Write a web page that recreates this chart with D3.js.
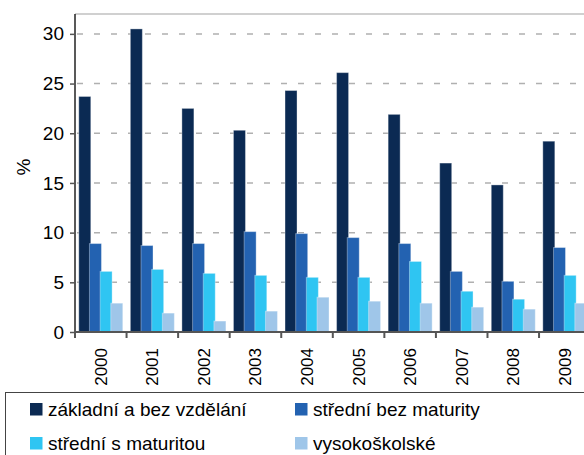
<!DOCTYPE html>
<html>
<head>
<meta charset="utf-8">
<script src="https://cdn.jsdelivr.net/npm/d3@7"></script>
<style>
	body { margin: 0; background: #fff; }
	text { font-family: Arial, "Liberation Sans", sans-serif; fill: #000; }
</style>
</head>
<body>
<svg id="chart" width="584" height="455"></svg>
<script>
var years = ["2000", "2001", "2002", "2003", "2004", "2005", "2006", "2007", "2008", "2009"];
var seriesNames = ["základní a bez vzdělání", "střední bez maturity", "střední s maturitou", "vysokoškolské"];
var zakladni = [23.7, 30.5, 22.5, 20.3, 24.3, 26.1, 21.9, 17.0, 14.8, 19.2];
var stredniBez = [8.9, 8.7, 8.9, 10.1, 9.9, 9.5, 8.9, 6.1, 5.1, 8.5];
var stredniS = [6.1, 6.3, 5.9, 5.7, 5.5, 5.5, 7.1, 4.1, 3.3, 5.7];
var vysokoskolske = [2.9, 1.9, 1.1, 2.1, 3.5, 3.1, 2.9, 2.5, 2.3, 2.9];
var yTicks = [0, 5, 10, 15, 20, 25, 30];

var colors = ["#0b2a53", "#2362b1", "#2fc5f2", "#9fc6e9"];
var allSeries = [zakladni, stredniBez, stredniS, vysokoskolske];

var svg = d3.select("#chart");
var plotLeft = 75, plotTop = 14, plotBottom = 332;
var bandW = 51.56;

var x = d3.scaleBand()
		.domain(years)
		.range([plotLeft, plotLeft + bandW * years.length])
		.padding(0);
var x1 = d3.scalePoint()
		.domain(d3.range(seriesNames.length))
		.range([0, 32]);
var barW = 12;
var groupW = 32 + barW;

var y = d3.scaleLinear().domain([0, 32]).range([plotBottom, plotTop]);

// plot frame top
svg.append('line')
		.attr('x1', plotLeft).attr('x2', 584)
		.attr('y1', plotTop).attr('y2', plotTop)
		.attr('stroke', "#d0d0d0").attr('stroke-width', 2);

// gridlines
svg.selectAll('.grid')
		.data(yTicks.filter(function(d){ return d > 0; }))
		.enter().append('line')
		.attr('x1', plotLeft + 2).attr('x2', 584)
		.attr('y1', function(d){ return y(d); })
		.attr('y2', function(d){ return y(d); })
		.attr('stroke', "#b0b0b0")
		.attr('stroke-width', 1.5)
		.attr('stroke-dasharray', "6,11");

// bars
for (var s = 0; s < allSeries.length; s++) {
	svg.append('g').selectAll('rect')
			.data(allSeries[s])
			.enter().append('rect')
			.attr('x', function(d, i){ return x(years[i]) + (bandW - groupW) / 2 + x1(s); })
			.attr('y', function(d){ return y(d); })
			.attr('width', barW)
			.attr('height', function(d){ return plotBottom - y(d); })
			.attr('fill', colors[s])
			.attr('stroke', "rgba(255,255,255,0.35)")
			.attr('stroke-width', 1);
}

// y axis
var yAxis = svg.append('g')
		.attr('transform', "translate(" + plotLeft + ",0)")
		.call(d3.axisLeft(y).tickValues(yTicks).tickSize(5).tickSizeOuter(0).tickPadding(6));
yAxis.select('.domain').attr('stroke', "#222").attr('stroke-width', 1.5)
		.attr('d', "M0," + plotTop + "V" + plotBottom);
yAxis.selectAll('.tick line').attr('stroke', "#555").attr('stroke-width', 1.5);
yAxis.selectAll('.tick text').style('font-size', "19px").attr('fill', "#000")
		.style('font-family', "Arial, 'Liberation Sans', sans-serif");

// x axis line
svg.append('line')
		.attr('x1', plotLeft).attr('x2', 584)
		.attr('y1', plotBottom).attr('y2', plotBottom)
		.attr('stroke', "#555").attr('stroke-width', 2);

// x boundary ticks
svg.selectAll('.xtick')
		.data(years)
		.enter().append('line')
		.attr('x1', function(d){ return x(d); })
		.attr('x2', function(d){ return x(d); })
		.attr('y1', plotBottom).attr('y2', plotBottom + 6)
		.attr('stroke', "#555").attr('stroke-width', 2);

// x labels
svg.selectAll('.xlab')
		.data(years)
		.enter().append('text')
		.text(function(d){ return d; })
		.attr('transform', function(d){
			return "translate(" + (x(d) + bandW / 2) + "," + (plotBottom + 16) + ") rotate(-90)";
		})
		.attr('text-anchor', "end")
		.attr('dy', "0.35em")
		.style('font-size', "17px");

// y label
svg.append('text')
		.text("%")
		.attr('transform', "translate(23,167) rotate(-90)")
		.attr('text-anchor', "middle")
		.attr('dy', "0.35em")
		.style('font-size', "19px");

// legend
svg.append('rect')
		.attr('x', 5.5).attr('y', 392.5)
		.attr('width', 600).attr('height', 100)
		.attr('fill', "none")
		.attr('stroke', "#444").attr('stroke-width', 1);

var legendPos = [[30, 409], [295, 409], [30, 443], [295, 443]];
for (var i = 0; i < seriesNames.length; i++) {
	svg.append('rect')
			.attr('x', legendPos[i][0])
			.attr('y', legendPos[i][1] - 6)
			.attr('width', 12.5).attr('height', 12.5)
			.attr('fill', colors[i]);
	svg.append('text')
			.text(seriesNames[i])
			.attr('x', legendPos[i][0] + 18)
			.attr('y', legendPos[i][1])
			.attr('dy', "0.35em")
			.style('font-size', "19px");
}
</script>
</body>
</html>
